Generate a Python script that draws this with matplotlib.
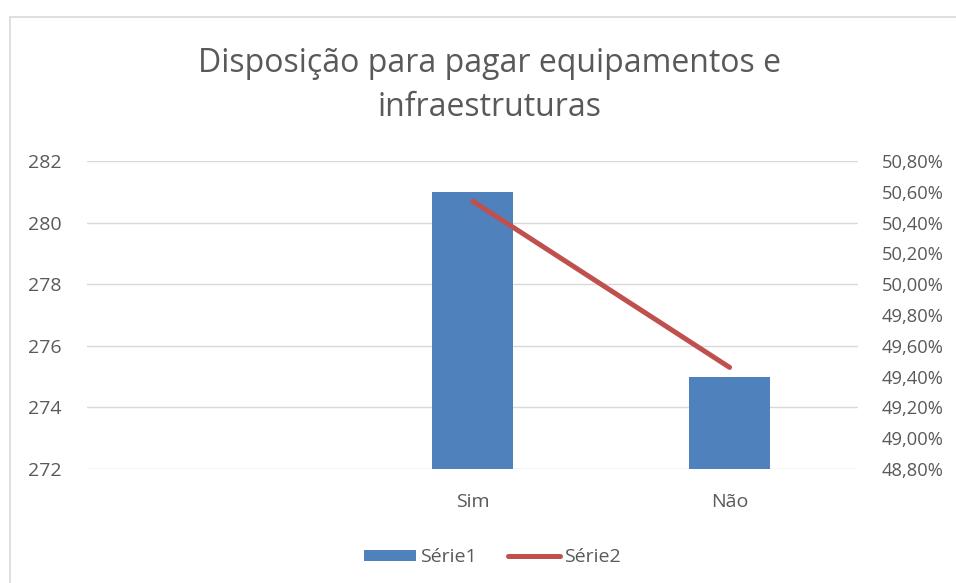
import matplotlib
matplotlib.use('Agg')

import matplotlib.pyplot as plt
from matplotlib.ticker import FuncFormatter
from matplotlib.patches import Rectangle

# Chart data
categories = ['', 'Sim', 'Não']
serie1 = [None, 281, 275]
serie2 = [None, 0.5054, 0.4946]

plt.rcParams['font.family'] = ['Open Sans', 'DejaVu Sans']
text_color = '#595959'

fig = plt.figure(figsize=(9.56, 5.83), dpi=100)
fig.patch.set_facecolor('white')

# chart border
fig.patches.append(Rectangle((10 / 956, -0.1), 1.1, (583 - 17) / 583 + 0.1,
                             transform=fig.transFigure, fill=False,
                             edgecolor='#D9D9D9', linewidth=1.2))

ax = fig.add_axes([0.091, 0.1955, 0.8066, 0.5283])
ax2 = ax.twinx()

x = list(range(len(categories)))
bx = [i for i, v in zip(x, serie1) if v is not None]
bv = [v for v in serie1 if v is not None]
ax.bar(bx, bv, width=0.315, color='#4F81BD', zorder=2, label='Série1')
ax.set_ylim(272, 282)
ax.set_yticks(range(272, 283, 2))
ax.set_xlim(-0.5, 2.5)
ax.set_xticks(x)
ax.set_xticklabels(categories)
ax.yaxis.grid(True, color='#D9D9D9', linewidth=1.0)
ax.set_axisbelow(True)

lx = [i for i, v in zip(x, serie2) if v is not None]
lv = [v for v in serie2 if v is not None]
ax2.plot(lx, lv, color='#C0504D', linewidth=3.6, solid_capstyle='round',
         label='Série2', zorder=3)
ax2.set_ylim(0.488, 0.508)
ax2.set_yticks([0.488 + 0.002 * i for i in range(11)])
ax2.yaxis.set_major_formatter(
    FuncFormatter(lambda v, p: f'{v * 100:.2f}%'.replace('.', ',')))

for a in (ax, ax2):
    for s in a.spines.values():
        s.set_visible(False)
    a.tick_params(length=0, labelsize=14, colors=text_color)
ax.tick_params(axis='y', pad=18)
ax2.tick_params(axis='y', pad=17, labelsize=13.2)
ax.tick_params(axis='x', pad=17)

fig.text(0.5125, 0.853, 'Disposição para pagar equipamentos e\ninfraestruturas',
         ha='center', va='center', fontsize=23, color=text_color,
         linespacing=1.42)

h1, l1 = ax.get_legend_handles_labels()
h2, l2 = ax2.get_legend_handles_labels()
fig.legend(h1 + h2, l1 + l2, loc='center', bbox_to_anchor=(0.515, 0.044),
           ncol=2, frameon=False, fontsize=14, labelcolor=text_color,
           handlelength=2.7, handleheight=0.5, handletextpad=0.2,
           columnspacing=1.6)

plt.savefig('out.png', dpi=100)
